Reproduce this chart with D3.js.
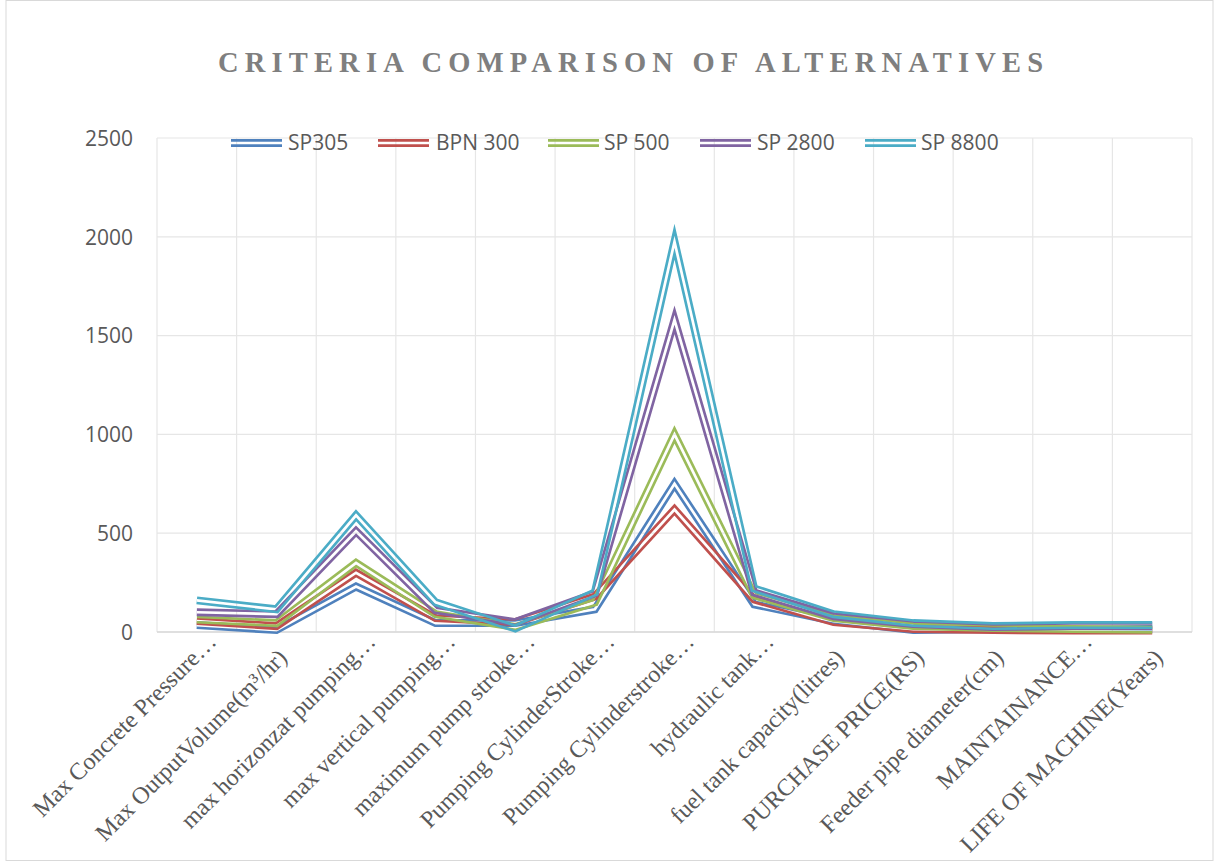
<!DOCTYPE html>
<html>
<head>
<meta charset="utf-8">
<script src="https://cdn.jsdelivr.net/npm/d3@7"></script>
<style>
  html, body { margin: 0; padding: 0; background: #ffffff; }
  svg { display: block; }
</style>
</head>
<body>
<svg id="chart" width="1215" height="862"></svg>
<script>
// Criteria (x categories)
const categories = [
  "Max Concrete Pressure…",
  "Max OutputVolume(m³/hr)",
  "max horizonzat pumping…",
  "max vertical pumping…",
  "maximum pump stroke…",
  "Pumping CylinderStroke…",
  "Pumping Cylinderstroke…",
  "hydraulic tank…",
  "fuel tank capacity(litres)",
  "PURCHASE PRICE(RS)",
  "Feeder pipe diameter(cm)",
  "MAINTAINANCE…",
  "LIFE OF MACHINE(Years)"
];

// Alternatives
const seriesNames = ["SP305", "BPN 300", "SP 500", "SP 2800", "SP 8800"];
const sp305  = [35, 10, 230, 45, 45, 115, 750, 140, 55, 10, 15, 12, 15];
const bpn300 = [55, 30, 300, 70, 50, 180, 620, 165, 50, 15, 10, 8, 8];
const sp500  = [63, 45, 350, 90, 25, 150, 1000, 185, 70, 30, 20, 15, 12];
const sp2800 = [100, 90, 510, 110, 50, 195, 1580, 200, 80, 40, 25, 30, 30];
const sp8800 = [160, 115, 590, 150, 18, 200, 1975, 220, 90, 45, 30, 35, 35];
const seriesValues = [sp305, bpn300, sp500, sp2800, sp8800];
const seriesColors = ["#4F81BD", "#C0504D", "#9BBB59", "#8064A2", "#4BACC6"];

const yTicks = [0, 500, 1000, 1500, 2000, 2500];
const titleText = "CRITERIA COMPARISON OF ALTERNATIVES";

const W = 1215, H = 862;
const plot = { left: 157, right: 1192, top: 138, bottom: 632 };

const svg = d3.select("#chart");
const defs = svg.append("defs");

// chart area background and border
svg.append("rect")
  .attr("x", 6).attr("y", 0.5).attr("width", 1207).attr("height", 860)
  .attr("fill", "#ffffff").attr("stroke", "#d9d9d9").attr("stroke-width", 1);

const x = d3.scaleBand().domain(categories).range([plot.left, plot.right]).padding(0);
const xc = d => x(d) + x.bandwidth() / 2;
const y = d3.scaleLinear().domain([0, 2500]).range([plot.bottom, plot.top]);

// gridlines
const grid = svg.append("g").attr("stroke", "#e6e6e6").attr("stroke-width", 1.2);
yTicks.forEach(t => {
  grid.append("line")
    .attr("x1", plot.left).attr("x2", plot.right)
    .attr("y1", y(t)).attr("y2", y(t));
});
const bounds = categories.map(c => x(c)).concat([plot.right]);
bounds.forEach(b => {
  grid.append("line")
    .attr("x1", b).attr("x2", b)
    .attr("y1", plot.top).attr("y2", plot.bottom);
});
// category axis line
svg.append("line")
  .attr("x1", plot.left).attr("x2", plot.right)
  .attr("y1", plot.bottom).attr("y2", plot.bottom)
  .attr("stroke", "#d9d9d9").attr("stroke-width", 1.5);

// value axis labels
const yAxis = d3.axisLeft(y).tickValues(yTicks).tickFormat(d3.format("d")).tickSize(0).tickPadding(0);
const yg = svg.append("g").attr("transform", `translate(133,0)`).call(yAxis);
yg.select(".domain").remove();
yg.selectAll("text")
  .attr("font-family", "'Open Sans', sans-serif")
  .attr("font-size", 21)
  .attr("fill", "#595959")
  .attr("dy", "0.35em");

// category labels, rotated
const xl = svg.append("g");
categories.forEach(c => {
  const truncated = c.endsWith("…");
  const ax = xc(c) + (truncated ? 21 : 12);
  const ay = truncated ? 643 : 659;
  xl.append("text")
    .attr("transform", `translate(${ax},${ay}) rotate(-45)`)
    .attr("text-anchor", "end")
    .attr("font-family", "'Liberation Serif', 'Times New Roman', serif")
    .attr("font-size", 24)
    .attr("fill", "#595959")
    .text(c);
});

// compound (double) line: coloured stroke with a transparent gap down its centre
const LINE_W = 8, GAP_W = 2.7;
function doubleLine(parent, d, color, id) {
  const m = defs.append("mask").attr("id", id)
    .attr("maskUnits", "userSpaceOnUse")
    .attr("x", 0).attr("y", 0).attr("width", W).attr("height", H);
  m.append("rect").attr("x", 0).attr("y", 0).attr("width", W).attr("height", H).attr("fill", "#fff");
  m.append("path").attr("d", d).attr("fill", "none").attr("stroke", "#000")
    .attr("stroke-width", GAP_W).attr("stroke-linejoin", "miter").attr("stroke-miterlimit", 10);
  parent.append("path").attr("d", d).attr("fill", "none").attr("stroke", color)
    .attr("stroke-width", LINE_W).attr("stroke-linejoin", "miter").attr("stroke-miterlimit", 10)
    .attr("mask", `url(#${id})`);
}

const line = d3.line().x((d, i) => xc(categories[i])).y(d => y(d));
const lines = svg.append("g");
seriesValues.forEach((vals, i) => {
  doubleLine(lines, line(vals), seriesColors[i], "ser" + i);
});

// legend
const legendItems = [
  { x0: 231, tx: 288 },
  { x0: 378, tx: 436 },
  { x0: 548, tx: 604 },
  { x0: 700, tx: 757 },
  { x0: 865, tx: 921 }
];
const lg = svg.append("g");
seriesNames.forEach((name, i) => {
  const it = legendItems[i];
  const ly = 143;
  doubleLine(lg, `M${it.x0},${ly}L${it.x0 + 51},${ly}`, seriesColors[i], "leg" + i);
  lg.append("text")
    .attr("x", it.tx).attr("y", ly).attr("dy", "0.35em")
    .attr("font-family", "'Open Sans', sans-serif")
    .attr("font-size", 21)
    .attr("fill", "#595959")
    .text(name);
});

// title
svg.append("text")
  .attr("x", 218).attr("y", 72)
  .attr("textLength", 825).attr("lengthAdjust", "spacing")
  .attr("font-family", "'Liberation Serif', 'Times New Roman', serif")
  .attr("font-weight", "bold")
  .attr("font-size", 28.5)
  .attr("fill", "#7f7f7f")
  .text(titleText);
</script>
</body>
</html>
